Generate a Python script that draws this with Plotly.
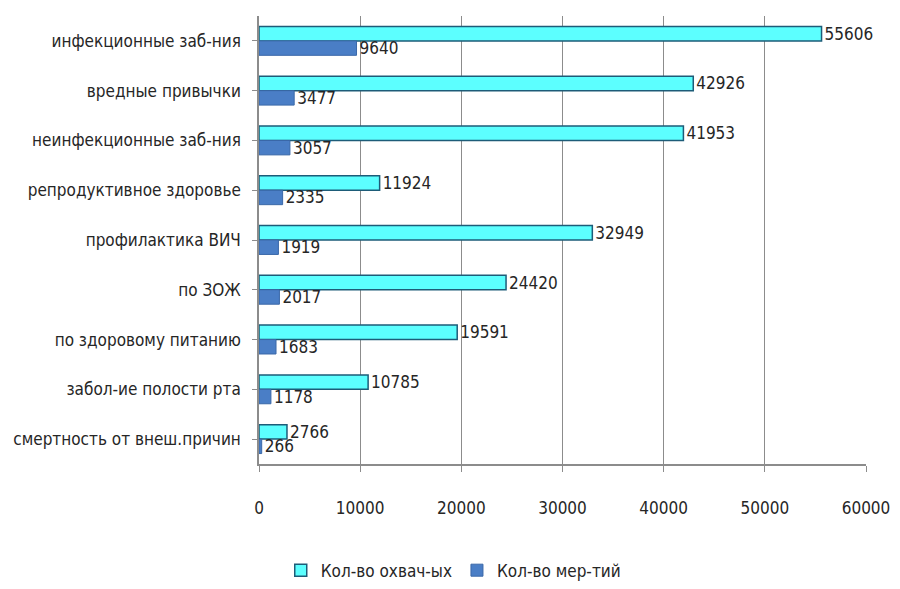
import plotly.graph_objects as go

categories = ["инфекционные заб-ния", "вредные привычки", "неинфекционные заб-ния",
              "репродуктивное здоровье", "профилактика ВИЧ", "по ЗОЖ",
              "по здоровому питанию", "забол-ие полости рта", "смертность от внеш.причин"]
covered = [55606, 42926, 41953, 11924, 32949, 24420, 19591, 10785, 2766]
died = [9640, 3477, 3057, 2335, 1919, 2017, 1683, 1178, 266]
series_names = ["Кол-во охвач-ых", "Кол-во мер-тий"]
x_ticks = [0, 10000, 20000, 30000, 40000, 50000, 60000]

FONT = "DejaVu Sans Condensed, Liberation Sans Narrow, sans-serif"

fig = go.Figure()
fig.add_trace(go.Bar(
    y=categories, x=covered, orientation="h", name=series_names[0],
    marker=dict(color="#5CFFFF", line=dict(color="#1D5C78", width=1.5)),
    text=[str(v) for v in covered], textposition="outside", cliponaxis=False,
    constraintext="none",
    textfont=dict(size=17, color="#262626", family=FONT),
))
fig.add_trace(go.Bar(
    y=categories, x=died, orientation="h", name=series_names[1],
    marker=dict(color="#4A7EC6", line=dict(color="#3A68A8", width=1)),
    text=[str(v) for v in died], textposition="outside", cliponaxis=False,
    constraintext="none",
    textfont=dict(size=17, color="#262626", family=FONT),
))

fig.update_layout(
    width=900, height=589,
    margin=dict(l=251, r=42, t=8, b=127),
    paper_bgcolor="white", plot_bgcolor="white",
    barmode="group", bargap=0.42, bargroupgap=0.0,
    font=dict(family=FONT, size=17, color="#262626"),
    showlegend=True,
    legend=dict(orientation="h", x=0.32, xanchor="center", y=-0.238, yanchor="middle",
                font=dict(size=17, family=FONT), traceorder="normal",
                itemwidth=30, tracegroupgap=0),
)
fig.update_xaxes(
    range=[0, 60000], tickvals=x_ticks, ticktext=[str(t) for t in x_ticks],
    showgrid=True, gridcolor="#8C8C8C", gridwidth=1,
    showline=True, linecolor="#8C8C8C", linewidth=1.5,
    ticks="outside", ticklen=6, tickcolor="#8C8C8C",
    ticklabelstandoff=22, zeroline=False, automargin=False,
    tickfont=dict(size=17, family=FONT),
)
fig.update_yaxes(
    autorange="reversed", showline=True, linecolor="#8C8C8C", linewidth=1.5,
    ticks="outside", ticklen=5, tickcolor="#8C8C8C", showgrid=False,
    tickfont=dict(size=17, family=FONT), ticklabelstandoff=8, automargin=False,
)

fig.write_html("out.html")
